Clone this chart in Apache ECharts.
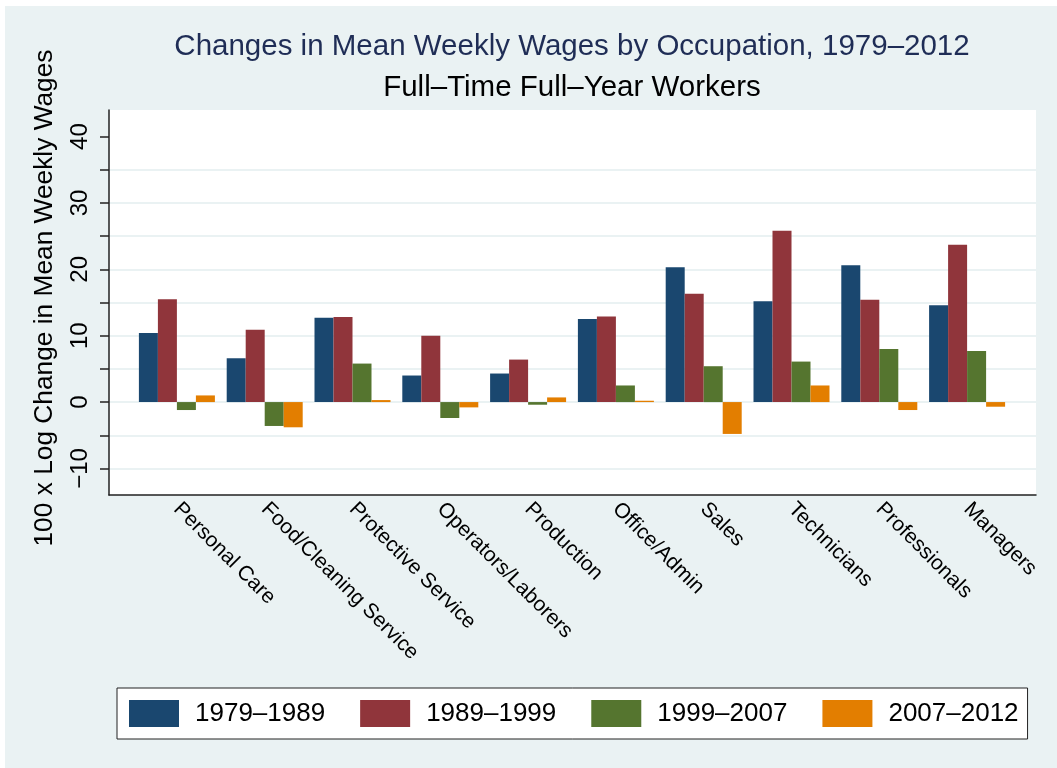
<!DOCTYPE html>
<html>
<head>
<meta charset="utf-8">
<script src="https://cdn.jsdelivr.net/npm/echarts@6/dist/echarts.min.js"></script>
<style>
html,body{margin:0;padding:0;background:#fff;}
#chart{width:1057px;height:768px;}
</style>
</head>
<body>
<div id="chart"></div>
<script>
// ---- data ----
var categories = ['Personal Care','Food/Cleaning Service','Protective Service','Operators/Laborers','Production','Office/Admin','Sales','Technicians','Professionals','Managers'];
var seriesNames = ['1979–1989','1989–1999','1999–2007','2007–2012'];
var v1979_1989 = [10.4, 6.6, 12.7, 4.0, 4.3, 12.5, 20.3, 15.2, 20.6, 14.6];
var v1989_1999 = [15.5, 10.9, 12.8, 10.0, 6.4, 12.9, 16.3, 25.8, 15.4, 23.7];
var v1999_2007 = [-1.2, -3.6, 5.8, -2.4, -0.4, 2.5, 5.4, 6.1, 8.0, 7.7];
var v2007_2012 = [1.0, -3.8, 0.3, -0.8, 0.7, 0.2, -4.8, 2.5, -1.2, -0.7];
var yTickValues = [-10, -5, 0, 5, 10, 15, 20, 25, 30, 35, 40];
var yLabelValues = [-10, 0, 10, 20, 30, 40];
var yGridValues = [-10, -5, 0, 5, 10, 15, 20, 25, 30, 35];
var yMin = -14, yMax = 44;

var colors = ['#1a476f', '#90353b', '#55752f', '#e37e00'];
var values = [v1979_1989, v1989_1999, v1999_2007, v2007_2012];
var FONT = '"Liberation Sans", Arial, Helvetica, sans-serif';

var chart = echarts.init(document.getElementById('chart'), null, {renderer: 'canvas'});

var series = seriesNames.map(function (name, i) {
  return {
    name: name,
    type: 'bar',
    xAxisIndex: 1,
    yAxisIndex: 2,
    data: values[i],
    barWidth: 19,
    barGap: '0%',
    itemStyle: {color: colors[i]},
    emphasis: {disabled: true},
    animation: false
  };
});

var option = {
  animation: false,
  backgroundColor: '#ffffff',
  color: colors,
  textStyle: {fontFamily: FONT},
  graphic: [
    {type: 'rect', z: -100, silent: true, shape: {x: 5, y: 6, width: 1052, height: 762}, style: {fill: '#eaf2f3'}},
    {type: 'text', x: 572, y: 47, silent: true,
      style: {text: 'Changes in Mean Weekly Wages by Occupation, 1979–2012', fill: '#1f2d56', font: '29.5px ' + FONT, textAlign: 'center', textVerticalAlign: 'middle'}},
    {type: 'text', x: 572, y: 88, silent: true,
      style: {text: 'Full–Time Full–Year Workers', fill: '#000', font: '29.5px ' + FONT, textAlign: 'center', textVerticalAlign: 'middle'}},
    {type: 'text', x: 45, y: 298, rotation: Math.PI / 2, silent: true,
      style: {text: '100 x Log Change in Mean Weekly Wages', fill: '#000', font: '26.3px ' + FONT, textAlign: 'center', textVerticalAlign: 'middle'}}
  ],
  legend: {
    data: seriesNames,
    left: 117,
    top: 688,
    orient: 'horizontal',
    icon: 'rect',
    itemWidth: 50,
    itemHeight: 27,
    itemGap: 35,
    padding: [12, 9, 12, 12],
    borderColor: '#222',
    borderWidth: 1,
    backgroundColor: '#ffffff',
    selectedMode: false,
    textStyle: {fontSize: 26, color: '#000', fontFamily: FONT, padding: [0, 0, 0, 11]}
  },
  grid: [
    {left: 109, right: 21, top: 110, bottom: 273, show: true, backgroundColor: '#ffffff', borderWidth: 0},
    {left: 133, right: 46, top: 110, bottom: 273}
  ],
  xAxis: [
    {type: 'value', gridIndex: 0, min: 0, max: 1,
      axisLine: {show: true, onZero: false, lineStyle: {color: '#222', width: 1.5}},
      axisTick: {show: false}, axisLabel: {show: false}, splitLine: {show: false}},
    {type: 'category', gridIndex: 1, data: categories,
      axisLine: {show: false}, axisTick: {show: false},
      axisLabel: {interval: 0, rotate: -45, fontSize: 21, color: '#000', fontFamily: FONT, margin: 11},
      splitLine: {show: false}}
  ],
  yAxis: [
    {type: 'value', gridIndex: 0, min: yMin, max: yMax,
      axisLine: {show: true, onZero: false, lineStyle: {color: '#222', width: 1.5}},
      axisTick: {show: true, inside: false, length: 9, customValues: yTickValues, lineStyle: {color: '#222', width: 1.5}},
      axisLabel: {show: true, customValues: yLabelValues, rotate: 90, margin: 17, fontSize: 24, color: '#000', fontFamily: FONT,
        formatter: function (v) { return String(v).replace('-', '−'); }},
      splitLine: {show: false}},
    {type: 'value', gridIndex: 0, min: yMin, max: yMax, position: 'left',
      axisLine: {show: false}, axisTick: {show: false, customValues: yGridValues},
      axisLabel: {show: false},
      splitLine: {show: true, lineStyle: {color: '#eaf2f3', width: 2}}},
    {type: 'value', gridIndex: 1, min: yMin, max: yMax, show: false}
  ],
  series: series
};
chart.setOption(option);
</script>
</body>
</html>
